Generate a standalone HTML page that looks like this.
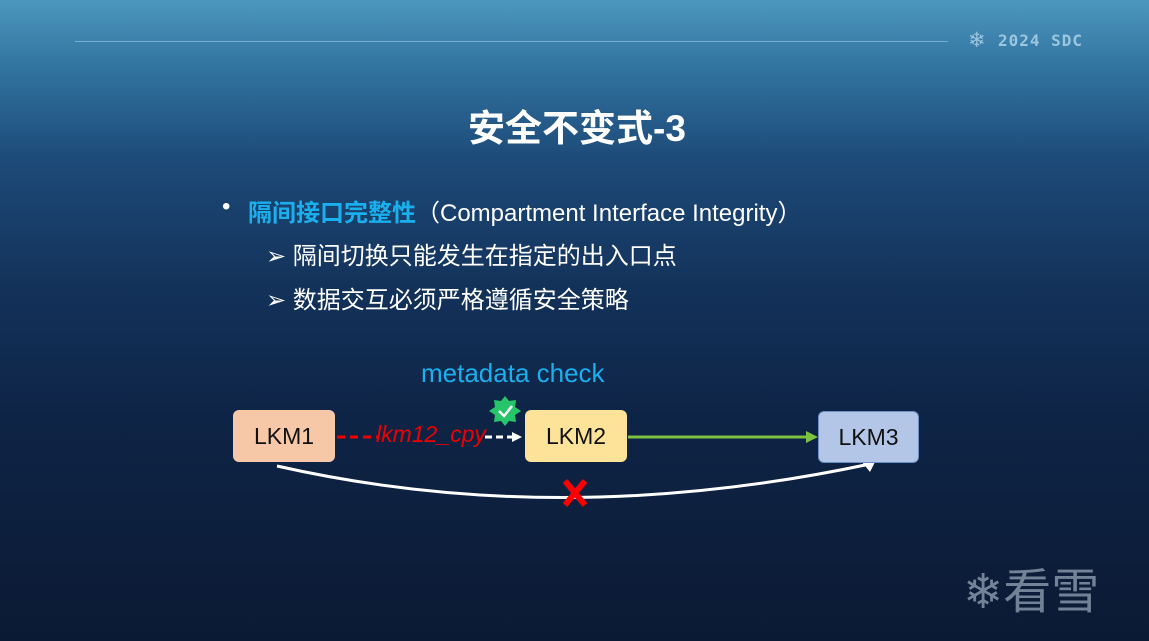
<!DOCTYPE html>
<html><head><meta charset="utf-8"><style>
body{margin:0;width:1149px;height:641px;overflow:hidden;font-family:"Liberation Sans","Noto Sans CJK SC",sans-serif;}
#bg{position:absolute;inset:0;background:linear-gradient(180deg,#4b97be 0%,#2f6f9c 12%,#1d4a78 25%,#13325a 45%,#0e2446 65%,#0b1a34 100%);}
.t{position:absolute;white-space:nowrap;}
.box{position:absolute;height:52px;border-radius:6px;font-size:23px;color:#111;display:flex;align-items:center;justify-content:center;}
</style></head><body><div id="bg"></div>
<div style="position:absolute;left:75px;top:41px;width:873px;height:1px;background:rgba(160,205,230,.6)"></div>
<div class="t" style="left:968px;top:28px;font-size:21px;color:#9cc6df">❄</div>
<div class="t" style="left:998px;top:31px;font-size:16px;font-weight:bold;letter-spacing:1px;color:#9cc6df;font-family:'DejaVu Sans Mono',monospace">2024 SDC</div>
<div class="t" style="left:468px;top:98px;font-size:37px;font-weight:bold;color:#fff">安全不变式-3</div>
<div class="t" style="left:222px;top:193px;font-size:24px;color:#fff">•</div>
<div class="t" style="left:248px;top:193px;font-size:24px;color:#fff"><b style="color:#1ab0ee">隔间接口完整性</b>（Compartment Interface Integrity）</div>
<div class="t" style="left:266px;top:236px;font-size:24px;color:#fff">➢ 隔间切换只能发生在指定的出入口点</div>
<div class="t" style="left:266px;top:280px;font-size:24px;color:#fff">➢ 数据交互必须严格遵循安全策略</div>
<div class="t" style="left:421px;top:358px;font-size:26px;color:#1ab0ee">metadata check</div>
<svg style="position:absolute;left:0;top:0" width="1149" height="641">
<path d="M277 466 Q560 530 870 464" stroke="#fff" stroke-width="3" fill="none"/>
<polygon points="876,460 862,462 870,472" fill="#fff"/>
<line x1="337" y1="437" x2="378" y2="437" stroke="#e00" stroke-width="3" stroke-dasharray="8,5"/>
<line x1="485" y1="437" x2="512" y2="437" stroke="#fff" stroke-width="3" stroke-dasharray="7,4"/>
<polygon points="512,432 522,437 512,442" fill="#fff"/>
<line x1="628" y1="437" x2="808" y2="437" stroke="#7ec242" stroke-width="3"/>
<polygon points="806,431 818,437 806,443" fill="#7ec242"/>
<polygon points="505,396 509,401 516,400 515,407 521,411 515,415 516,422 509,421 505,426 501,421 494,422 495,415 489,411 495,407 494,400 501,401" fill="#26c56a"/>
<path d="M499 411 L504 416 L512 406" stroke="#fff" stroke-width="2.5" fill="none"/>
<path d="M565 481 L585 505 M585 481 L565 505" stroke="#f00" stroke-width="6"/>
</svg>
<div class="t" style="left:376px;top:421px;font-size:23px;font-style:italic;color:#e00">lkm12_cpy</div>
<div class="box" style="left:233px;top:410px;width:102px;background:#f7c8a8">LKM1</div>
<div class="box" style="left:525px;top:410px;width:102px;background:#fde39a">LKM2</div>
<div class="box" style="left:818px;top:411px;width:101px;background:#b3c6e7;border:1px solid #6d8ec4;box-sizing:border-box">LKM3</div>
<div class="t" style="left:963px;top:552px;font-size:48px;color:rgba(200,215,230,.55)">❄看雪</div>
</body></html>
